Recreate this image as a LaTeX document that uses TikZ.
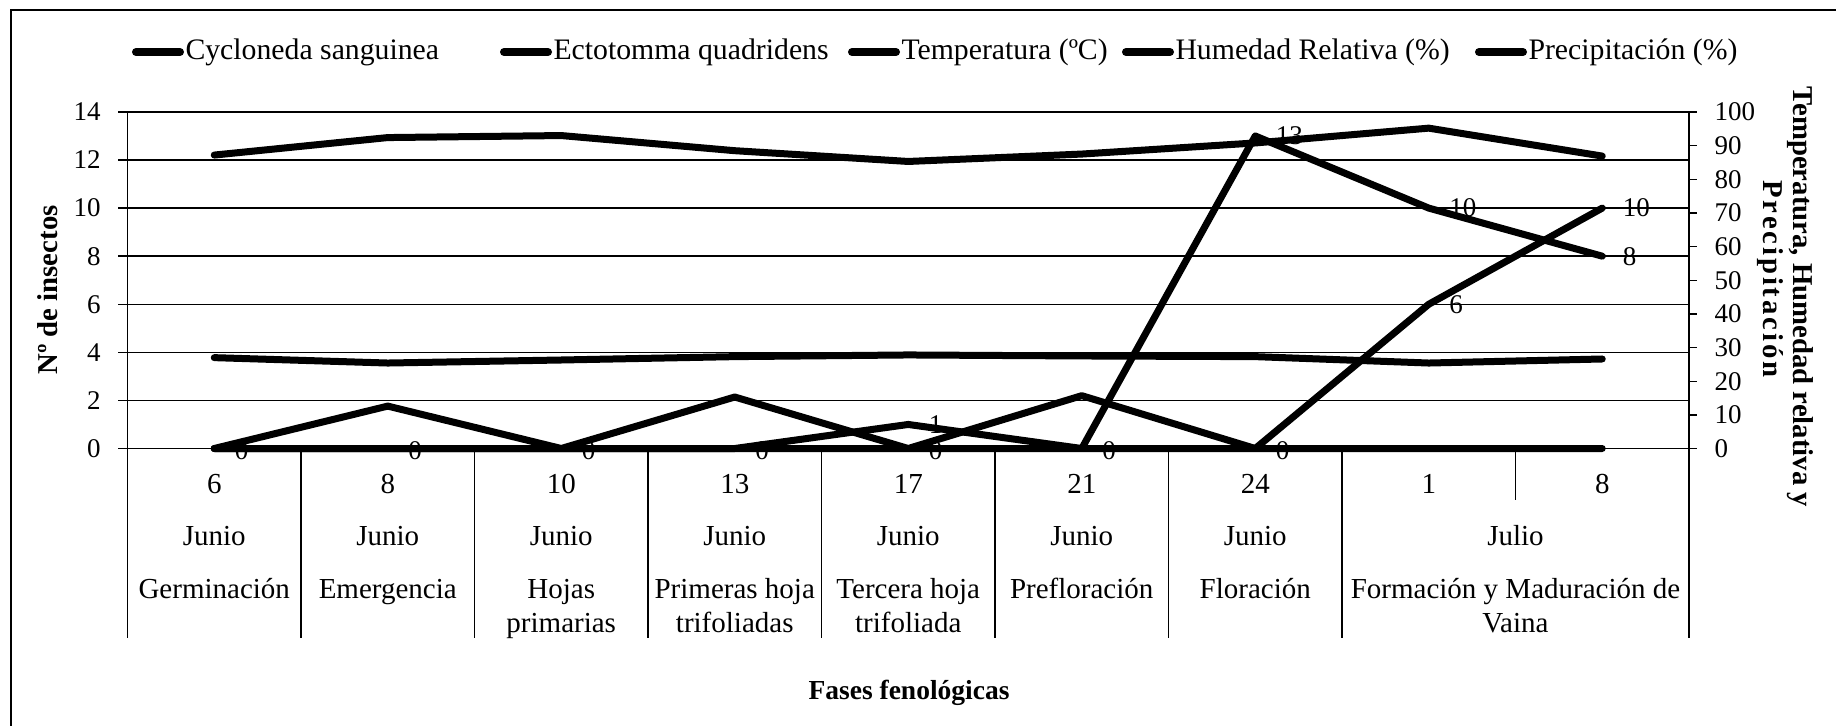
\documentclass[tikz,border=0pt]{standalone}
\usepackage{fontspec}
\setmainfont{Liberation Serif}
\begin{document}
\begin{tikzpicture}[x=0.4pt,y=-0.4pt,
  declare function={xc(\i)=127.5+173.5*(\i-0.5); yl(\v)=448.5-24.04*\v; yr(\v)=448.5-3.365*\v;}]
\tikzset{
  serie/.style={line width=2.8pt, line cap=round, line join=round},
  gridln/.style={line width=0.55pt},
  axln/.style={line width=0.65pt},
  ticklab/.style={font=\fontsize{10.8}{12}\selectfont, inner sep=0pt},
  catlab/.style={font=\fontsize{11.6}{13}\selectfont, anchor=base, inner sep=0pt},
  dlab/.style={font=\fontsize{10.8}{12}\selectfont, anchor=west, inner sep=0pt},
  leglab/.style={font=\fontsize{11.9}{13}\selectfont, anchor=west, inner sep=0pt},
  legline/.style={line width=3.2pt, line cap=round},
  ttl/.style={font=\bfseries\fontsize{11.5}{13}\selectfont, inner sep=0pt},
}
\fill[white] (0,0) rectangle (1836,726);
\useasboundingbox (0,0) rectangle (1836,726);
% outer frame (visible parts)
\draw[axln] (11,726) -- (11,10) -- (1836,10);
% gridlines and left labels
\foreach \v in {0,2,...,14}{
  \draw[gridln] (118,{yl(\v)}) -- (1689,{yl(\v)});
  \node[ticklab, anchor=east] (tl\v) at (101,{yl(\v)}) {\v};
}
% right ticks and labels
\foreach \r in {0,10,...,100}{
  \draw[gridln] (1689,{yr(\r)}) -- (1697,{yr(\r)});
  \node[ticklab, anchor=west] (tr\r) at (1714,{yr(\r)}) {\r};
}
% axes and category separators
\draw[axln] (127.5,112) -- (127.5,638);
\draw[axln] (1689,112) -- (1689,638);
\foreach \k in {1,...,7}{
  \draw[axln] ({127.5+173.5*\k},448.5) -- ({127.5+173.5*\k},638);
}
\draw[axln] ({127.5+173.5*8},448.5) -- ({127.5+173.5*8},500);
% category labels
\foreach [count=\i] \d in {6,8,10,13,17,21,24,1,8}{
  \node[catlab] (d\i) at ({xc(\i)},494) {\d};
}
\foreach \i in {1,...,7}{
  \node[catlab] (m\i) at ({xc(\i)},545) {Junio};
}
\node[catlab] (m8) at (1515.5,545) {Julio};
\node[catlab] (p1) at ({xc(1)},598) {Germinación};
\node[catlab] (p2) at ({xc(2)},598) {Emergencia};
\node[catlab] (p3a) at ({xc(3)},598) {Hojas};
\node[catlab] (p3b) at ({xc(3)},632) {primarias};
\node[catlab] (p4a) at ({xc(4)},598) {Primeras hoja};
\node[catlab] (p4b) at ({xc(4)},632) {trifoliadas};
\node[catlab] (p5a) at ({xc(5)},598) {Tercera hoja};
\node[catlab] (p5b) at ({xc(5)},632) {trifoliada};
\node[catlab] (p6) at ({xc(6)},598) {Prefloración};
\node[catlab] (p7) at ({xc(7)},598) {Floración};
\node[catlab] (p8a) at (1515.5,598) {Formación y Maduración de};
\node[catlab] (p8b) at (1515.5,632) {Vaina};
% series coordinates
\foreach [count=\i] \v in {87.2,92.4,93.0,88.5,85.3,87.5,90.8,95.2,86.9}
  \coordinate (h\i) at ({xc(\i)},{yr(\v)});
\foreach [count=\i] \v in {27.0,25.4,26.3,27.3,27.8,27.5,27.3,25.4,26.6}
  \coordinate (t\i) at ({xc(\i)},{yr(\v)});
\foreach [count=\i] \v in {0,12.6,0,15.3,0,15.7,0,0,0}
  \coordinate (r\i) at ({xc(\i)},{yr(\v)});
\foreach [count=\i] \v in {0,0,0,0,1,0,13,10,8}
  \coordinate (a\i) at ({xc(\i)},{yl(\v)});
\foreach [count=\i] \v in {0,0,0,0,0,0,0,6,10}
  \coordinate (b\i) at ({xc(\i)},{yl(\v)});
\draw[serie] (h1) \foreach \i in {2,...,9}{-- (h\i)};
\draw[serie] (t1) \foreach \i in {2,...,9}{-- (t\i)};
\draw[serie] (r1) \foreach \i in {2,...,9}{-- (r\i)};
\draw[serie] (a1) \foreach \i in {2,...,9}{-- (a\i)};
\draw[serie] (b1) \foreach \i in {2,...,9}{-- (b\i)};
% data labels
\foreach \i in {1,2,3,4,6}{
  \node[dlab] (la\i) at ([xshift=8pt,yshift=-1pt]a\i) {0};
}
\node[dlab] (lb5) at ([xshift=8pt,yshift=-1pt]b5) {0};
\node[dlab] (la5) at ([xshift=8pt]a5) {1};
\node[dlab] (lb7) at ([xshift=8pt,yshift=-1pt]b7) {0};
\node[dlab] (la7) at ([xshift=8pt]a7) {13};
\node[dlab] (la8) at ([xshift=8pt]a8) {10};
\node[dlab] (lb8) at ([xshift=8pt]b8) {6};
\node[dlab] (la9) at ([xshift=8pt]a9) {8};
\node[dlab] (lb9) at ([xshift=8pt]b9) {10};
% legend
\foreach [count=\j] \xs/\txt in {132/Cycloneda sanguinea, 500/Ectotomma quadridens, 848/Temperatura (ºC), 1122/Humedad Relativa (\%), 1475/Precipitación (\%)}{
  \coordinate (lgs\j) at ({\xs+4},52);
  \coordinate (lge\j) at ({\xs+48},52);
  \draw[legline] (lgs\j) -- (lge\j);
  \node[leglab] (lg\j) at ({\xs+53},52) {\txt};
}
% axis titles
\node[ttl, rotate=90] (ytl) at (48,290) {Nº de insectos};
\node[ttl, rotate=-90] (ytr1) at (1800,297) {Temperatura, Humedad relativa y};
\node[ttl, rotate=-90] (ytr2) at (1770,279) {\addfontfeature{LetterSpace=10}Precipitación};
\node[ttl, font=\bfseries\fontsize{11}{13}\selectfont] (xtl) at (909,693) {Fases fenológicas};
\end{tikzpicture}
\end{document}
